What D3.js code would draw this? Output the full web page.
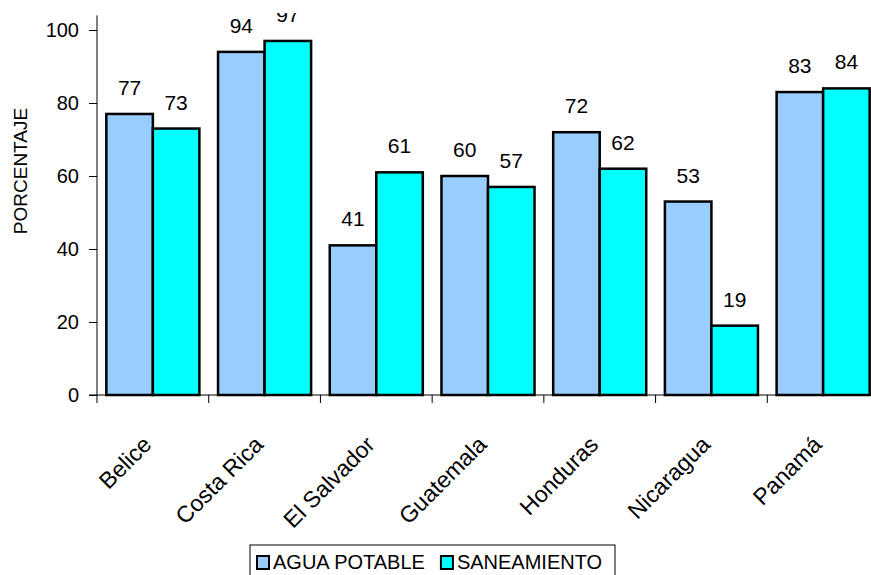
<!DOCTYPE html>
<html>
<head>
    <meta charset="UTF-8">
    <title>Agua potable y saneamiento</title>
    <script src="https://d3js.org/d3.v7.min.js"></script>
    <style>
        body { margin: 0; background: #ffffff; }
        svg { display: block; font-family: "Liberation Sans", Arial, sans-serif; }
        .axis path, .axis line { stroke: #000; }
        .axis text { font-size: 20px; fill: #000; }
        .axis text.cat { font-size: 23px; }
    </style>
</head>
<body>
    <svg id="chart"></svg>

    <script>
        // datos
        const countries = ['Belice', 'Costa Rica', 'El Salvador', 'Guatemala', 'Honduras', 'Nicaragua', 'Panamá'];
        const seriesNames = ['AGUA POTABLE', 'SANEAMIENTO'];
        const aguaPotable = [77, 94, 41, 60, 72, 53, 83];
        const saneamiento = [73, 97, 61, 57, 62, 19, 84];
        const yTicks = [0, 20, 40, 60, 80, 100];
        const colors = ['#99ccff', '#00ffff'];

        const W = 871, H = 575;
        const plotLeft = 97, plotRight = 879, plotTop = 30, plotBottom = 395;

        const svg = d3.select('#chart').attr('width', W).attr('height', H);

        const rows = countries.map((c, i) => ({ country: c, values: [aguaPotable[i], saneamiento[i]] }));

        const pad = 0.167;
        const x = d3.scaleBand().domain(countries).range([plotLeft, plotRight])
            .paddingInner(pad).paddingOuter(pad / 2);
        const xs = d3.scaleBand().domain(seriesNames).range([0, x.bandwidth()]);
        const y = d3.scaleLinear().domain([0, 100]).range([plotBottom, plotTop]);
        const step = x.step();

        // barras
        const groups = svg.selectAll('.grp')
            .data(rows)
            .enter().append('g')
            .attr('class', 'grp')
            .attr('transform', d => `translate(${x(d.country)},0)`);

        groups.selectAll('rect')
            .data(d => d.values.map((v, k) => ({ name: seriesNames[k], v: v, k: k })))
            .enter().append('rect')
            .attr('x', d => xs(d.name))
            .attr('width', xs.bandwidth())
            .attr('y', d => y(d.v))
            .attr('height', d => y(0) - y(d.v))
            .attr('fill', d => colors[d.k])
            .attr('stroke', '#000')
            .attr('stroke-width', 2.5);

        // etiquetas de valor (recortadas arriba como en el original)
        svg.append('clipPath').attr('id', 'topclip')
            .append('rect').attr('x', 0).attr('y', 13).attr('width', W).attr('height', H);

        const lbl = svg.append('g').attr('clip-path', 'url(#topclip)');
        rows.forEach(r => {
            r.values.forEach((v, k) => {
                lbl.append('text')
                    .attr('x', x(r.country) + xs(seriesNames[k]) + xs.bandwidth() / 2)
                    .attr('y', y(v) - 19)
                    .attr('text-anchor', 'middle')
                    .style('font-size', '21px')
                    .text(v);
            });
        });

        // eje Y
        const yAxis = svg.append('g')
            .attr('class', 'axis')
            .attr('transform', `translate(${plotLeft},0)`)
            .call(d3.axisLeft(y).tickValues(yTicks).tickSize(8).tickPadding(10).tickSizeOuter(0));
        yAxis.select('.domain').remove();
        yAxis.append('line')
            .attr('x1', 0).attr('x2', 0)
            .attr('y1', y(104)).attr('y2', y(0))
            .attr('stroke', '#000');

        // eje X
        const xAxis = svg.append('g').attr('class', 'axis');
        xAxis.append('line')
            .attr('x1', plotLeft - 8).attr('x2', W)
            .attr('y1', y(0)).attr('y2', y(0))
            .attr('stroke', '#000');
        xAxis.selectAll('.tk')
            .data(d3.range(countries.length + 1))
            .enter().append('line')
            .attr('x1', i => plotLeft + i * step).attr('x2', i => plotLeft + i * step)
            .attr('y1', y(0)).attr('y2', y(0) + 8)
            .attr('stroke', '#000');
        xAxis.selectAll('.cat')
            .data(countries)
            .enter().append('text')
            .attr('class', 'cat')
            .attr('text-anchor', 'end')
            .attr('transform', d => `translate(${x(d) + x.bandwidth() / 2},446) rotate(-45)`)
            .text(d => d);

        svg.append('text')
            .attr('transform', `translate(27,171) rotate(-90)`)
            .attr('text-anchor', 'middle')
            .style('font-size', '19px')
            .text('PORCENTAJE');

        // leyenda
        const lg = svg.append('g');
        lg.append('rect')
            .attr('x', 250).attr('y', 545).attr('width', 365).attr('height', 45)
            .attr('fill', '#fff').attr('stroke', '#000');
        let lx = 257;
        seriesNames.forEach((s, k) => {
            lg.append('rect')
                .attr('x', lx).attr('y', 556).attr('width', 12).attr('height', 13)
                .attr('fill', colors[k]).attr('stroke', '#000').attr('stroke-width', 2);
            const t = lg.append('text')
                .attr('x', lx + 16).attr('y', 569)
                .style('font-size', '20px')
                .text(s);
            lx += 16 + t.node().getComputedTextLength() + 16;
        });
    </script>
</body>
</html>
